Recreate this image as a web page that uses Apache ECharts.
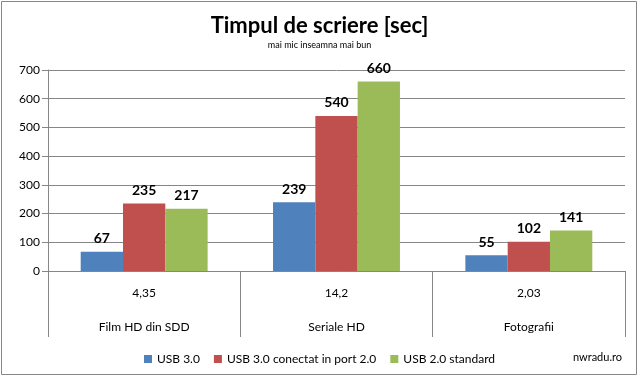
<!DOCTYPE html>
<html><head><meta charset="utf-8">
<script src="https://cdn.jsdelivr.net/npm/echarts@6/dist/echarts.min.js"></script>
<style>html,body{margin:0;padding:0;background:#fff}#c{width:639px;height:378px}</style>
</head><body><div id="c"></div>
<script>
var categories = ['Film HD din SDD', 'Seriale HD', 'Fotografii'];
var sizes = ['4,35', '14,2', '2,03'];
var seriesNames = ['USB 3.0', 'USB 3.0 conectat in port 2.0', 'USB 2.0 standard'];
var usb3 = [67, 239, 55];
var usb3port2 = [235, 540, 102];
var usb2 = [217, 660, 141];
var yTicks = [0, 100, 200, 300, 400, 500, 600, 700];
var colors = ['#4F81BD', '#C0504D', '#9BBB59'];

var chart = echarts.init(document.getElementById('c'));
var F = 'Lato, "Open Sans", sans-serif';
var lbl = {show: true, position: 'top', distance: 6, color: '#000', fontWeight: 'bold', fontSize: 14, fontFamily: F};
function mk(name, data, i) {
  return {name: name, type: 'bar', data: data, itemStyle: {color: colors[i]}, label: lbl,
    barGap: '0%', barCategoryGap: '34%', animation: false};
}
chart.setOption({
  animation: false,
  title: {text: 'Timpul de scriere [sec]', subtext: 'mai mic inseamna mai bun', left: 'center', top: 10,
    itemGap: 4,
    textStyle: {fontFamily: F, fontSize: 22, fontWeight: 'bold', color: '#000'},
    subtextStyle: {fontFamily: F, fontSize: 9, color: '#000'}},
  legend: {top: 348, left: 'center', itemWidth: 8, itemHeight: 8, itemGap: 14, icon: 'rect',
    textStyle: {fontFamily: F, fontSize: 12, color: '#000'}, data: seriesNames},
  grid: {left: 48, right: 14, top: 70, bottom: 107, containLabel: false},
  xAxis: {type: 'category', data: categories,
    axisLine: {lineStyle: {color: '#868686'}},
    axisTick: {show: true, length: 66, interval: 0, lineStyle: {color: '#868686'}},
    axisLabel: {interval: 0, margin: 5, lineHeight: 34, fontFamily: F, fontSize: 12, color: '#000',
      formatter: function (v, i) { return sizes[i] + '\n' + v; }}},
  yAxis: {type: 'value', min: 0, max: 700, interval: 100,
    axisLine: {show: true, lineStyle: {color: '#868686'}},
    axisTick: {show: true, length: 6, lineStyle: {color: '#868686'}},
    axisLabel: {fontFamily: F, fontSize: 12, color: '#000', margin: 8,
      formatter: function (v) { return yTicks.indexOf(v) >= 0 ? String(v) : ''; }},
    splitLine: {lineStyle: {color: '#868686'}}},
  series: [mk(seriesNames[0], usb3, 0), mk(seriesNames[1], usb3port2, 1), mk(seriesNames[2], usb2, 2)],
  graphic: [
    {type: 'rect', shape: {x: 1.5, y: 1.5, width: 635, height: 373}, style: {fill: 'none', stroke: '#868686', lineWidth: 1}, silent: true},
    {type: 'text', right: 17, top: 352, style: {text: 'nwradu.ro', fontFamily: F, fontSize: 11, fill: '#000'}}
  ]
});
</script></body></html>
